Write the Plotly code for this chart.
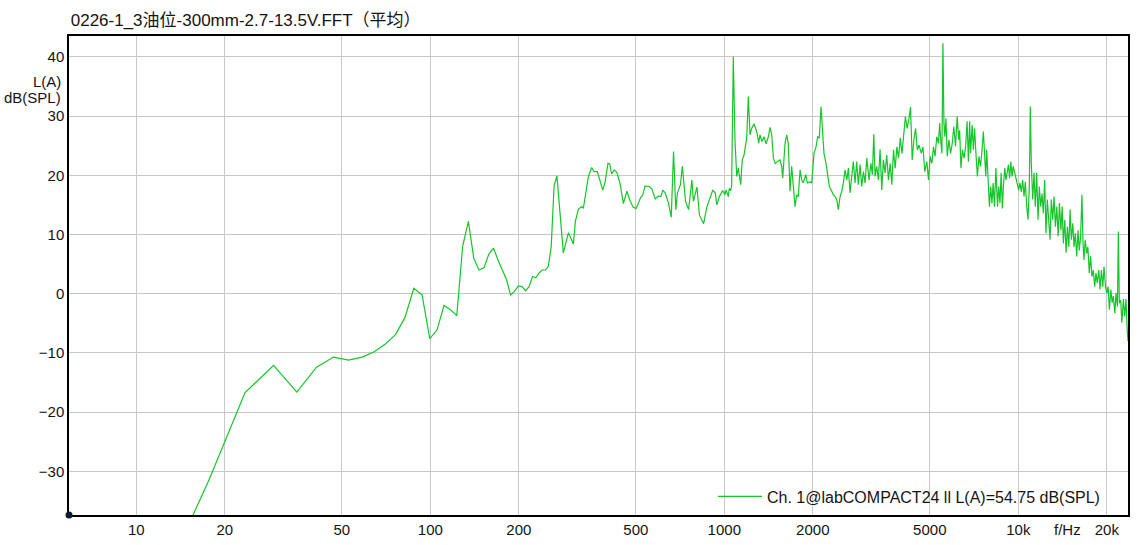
import plotly.graph_objects as go

# ---------------- data ----------------
freq_low = [5.86, 11.72, 17.58, 23.44, 29.30, 35.16, 41.02, 46.88, 52.73, 58.59,
            64.45, 70.31, 76.17, 82.03, 87.89, 93.75, 99.61, 105.47, 111.33, 117.19,
            123.05, 128.91, 134.77, 140.63, 146.48, 152.34, 158.20, 164.06, 169.92, 175.78,
            181.64, 187.50, 193.36, 199.22, 205.08, 210.94, 216.80, 222.66, 228.52, 234.38,
            240.23, 246.09, 251.95, 257.81, 263.67, 269.53]
level_low = [-58.0, -50.8, -31.7, -16.7, -12.1, -16.6, -12.4, -10.7, -11.2, -10.7,
             -9.8, -8.5, -6.9, -4.0, 0.9, -0.2, -7.6, -6.1, -2.0, -2.7,
             -3.7, 8.1, 12.2, 5.9, 4.0, 4.4, 6.7, 7.7, 5.7, 4.0,
             2.4, -0.2, 0.4, 1.3, 1.2, 0.5, 1.2, 2.9, 2.7, 3.5,
             4.0, 4.0, 4.6, 8.0, 18.2, 19.9]

freq_mid = [275, 283.5, 295, 306.6, 311.5, 319, 327.5, 331.6, 340.6, 345,
            354, 360.6, 370, 378, 386, 393, 402, 407.5, 414, 422,
            431, 442, 453.6, 466, 479, 490, 501.6, 518, 528, 538,
            556, 567, 582, 597, 608, 618, 630, 646, 660, 672,
            684, 693, 709, 720, 738, 756, 776, 785, 807, 823,
            850, 873, 897, 914, 932, 943, 962, 987, 1005, 1013,
            1032, 1040, 1051, 1059, 1073, 1087, 1102, 1116, 1137, 1151,
            1167, 1192, 1207, 1223, 1239, 1262, 1282, 1295, 1309, 1323,
            1343, 1365, 1387, 1412, 1431, 1450, 1469, 1490, 1515, 1547,
            1568, 1580, 1609, 1630, 1650, 1673, 1695, 1717, 1740, 1763,
            1785, 1810, 1834, 1857, 1892, 1916, 1957, 1983]
level_mid = [14.5, 6.9, 10.3, 8.4, 12.2, 14.3, 14.7, 14.4, 18.1, 19.8,
             21.3, 20.6, 20.6, 18.9, 17.5, 18.8, 22.0, 21.9, 20.2, 20.9,
             20.5, 18.6, 15.2, 17.3, 15.6, 14.6, 14.4, 16.1, 16.7, 18.2,
             18.1, 17.7, 16.0, 16.5, 16.4, 17.5, 17.0, 15.3, 12.9, 24.0,
             14.2, 17.0, 18.4, 21.5, 15.6, 14.2, 19.2, 15.6, 18.0, 13.3,
             11.8, 14.7, 16.4, 17.5, 17.0, 15.0, 16.4, 17.4, 16.7, 17.5,
             16.4, 17.8, 17.4, 18.1, 40.0, 26.0, 19.8, 21.2, 18.4, 22.6,
             23.4, 26.3, 33.3, 26.8, 27.9, 28.7, 27.7, 27.0, 25.4, 26.8,
             25.7, 26.5, 25.3, 26.5, 28.1, 26.8, 22.9, 22.0, 22.3, 22.6,
             21.5, 19.5, 25.4, 26.8, 25.4, 17.3, 21.5, 18.1, 14.7, 16.7,
             16.4, 20.9, 19.2, 18.7, 20.1, 18.7, 18.9, 18.7]

freq_upper = [2019, 2051, 2077, 2105, 2133, 2161, 2183, 2218, 2241, 2277,
              2320, 2349, 2381, 2412, 2443, 2476, 2509, 2541, 2575, 2610,
              2643, 2677, 2713, 2747, 2784, 2820, 2857, 2895, 2933, 2972,
              3012, 3053, 3108, 3150, 3189, 3224, 3257, 3300, 3343, 3387,
              3432, 3476, 3522, 3569, 3616, 3665, 3714, 3762, 3813, 3865,
              3915, 3967, 4021, 4075, 4130, 4186, 4241, 4298, 4356, 4414,
              4474, 4534, 4594, 4680, 4739, 4808, 4884, 4950, 5013, 5080,
              5147, 5211, 5280, 5350, 5403, 5444, 5498, 5541, 5585, 5628,
              5672, 5734, 5806, 5883, 5961, 6035, 6115, 6196, 6270, 6316,
              6381, 6456, 6537, 6619, 6697, 6766, 6831, 6881, 6967, 7034,
              7102, 7175, 7259, 7349, 7441, 7528, 7605, 7677, 7750, 7806,
              7903, 7977, 8059, 8135, 8211, 8294, 8392, 8495, 8575, 8661,
              8743, 8825, 8913, 8996, 9080, 9170, 9255, 9340, 9434, 9521, 9610]
level_upper = [23.7, 24.8, 26.5, 26.3, 31.6, 27.1, 23.7, 22.0, 20.4, 18.1,
               17.3, 16.7, 16.4, 15.9, 14.2, 16.4, 17.3, 18.7, 20.9, 19.2,
               21.2, 17.0, 19.8, 22.3, 18.7, 22.3, 18.4, 21.8, 18.1, 20.6,
               18.7, 22.9, 19.2, 22.0, 20.1, 26.9, 19.8, 21.5, 19.2, 24.4,
               17.5, 22.6, 20.4, 23.4, 19.2, 22.0, 18.4, 24.3, 21.2, 24.8,
               22.9, 26.3, 23.7, 27.1, 29.9, 27.9, 29.3, 31.5, 22.6, 26.0,
               27.9, 24.3, 25.1, 23.7, 24.8, 20.6, 22.3, 19.2, 23.2, 22.0,
               24.8, 23.2, 26.5, 25.4, 28.8, 26.0, 23.7, 42.3, 28.8, 26.5,
               29.6, 23.2, 26.0, 23.7, 25.4, 28.2, 24.9, 29.9, 26.0, 27.6,
               21.2, 24.3, 22.9, 24.8, 29.1, 22.3, 29.1, 23.7, 28.5, 24.3,
               27.9, 23.7, 19.8, 23.2, 21.5, 24.3, 27.4, 23.7, 19.8, 24.3,
               18.1, 14.7, 18.1, 15.3, 18.7, 14.7, 21.2, 14.7, 18.1, 15.3,
               20.4, 14.4, 18.7, 21.2, 19.2, 20.6, 21.8, 19.5, 22.3, 19.8, 21.5]

freq_high = [10031, 10134, 10238, 10350, 10456, 10564, 10680, 10788, 10900, 10985,
             11072, 11194, 11310, 11425, 11550, 11670, 11790, 11920, 12040, 12163,
             12295, 12420, 12550, 12690, 12820, 12950, 13095, 13230, 13370, 13520,
             13660, 13800, 13960, 14100, 14230, 14390, 14540, 14690, 14850, 15000,
             15150, 15320, 15470, 15630, 15800, 15960, 16120, 16290, 16460, 16590,
             16720, 16890, 17080, 17240, 17430, 17620, 17800, 17990, 18190, 18370,
             18560, 18780, 18960, 19170, 19380, 19570, 19790, 20000, 20200, 20410,
             20640, 20850, 21050, 21300, 21500, 21740, 21890, 22060, 22300, 22500,
             22770, 23010, 23240, 23430, 23610]
level_high = [17.5, 18.7, 17.2, 19.2, 16.4, 18.9, 14.7, 12.5, 18.1, 31.6,
              22.0, 15.9, 20.4, 14.7, 20.4, 12.5, 18.1, 14.7, 16.9, 13.6,
              19.2, 10.2, 15.9, 13.1, 9.1, 15.9, 12.5, 16.4, 11.3, 14.7,
              9.7, 15.3, 10.7, 14.7, 8.5, 12.5, 6.9, 11.3, 7.9, 14.2,
              9.1, 11.9, 7.9, 10.2, 6.3, 10.7, 7.3, 9.6, 16.7, 8.9,
              5.7, 9.1, 6.8, 7.9, 3.5, 6.3, 2.9, 4.0, 1.2, 3.5,
              1.8, 4.0, 0.7, 4.0, 1.2, 4.6, 1.2, 0.1, 1.2, -2.7,
              0.7, -1.5, -0.4, -3.3, 0.1, -2.2, 10.5, -1.6, -1.1, -4.9,
              -0.9, -3.8, -0.9, -5.5, -8.0]

x_tick_vals = [10, 20, 50, 100, 200, 500, 1000, 2000, 5000, 10000, 20000]
x_tick_text = ["10", "20", "50", "100", "200", "500", "1000", "2000", "5000", "10k", "20k"]
y_tick_vals = [-30, -20, -10, 0, 10, 20, 30, 40]

title_text = "0226-1_3油位-300mm-2.7-13.5V.FFT（平均）"
legend_text = "Ch. 1@labCOMPACT24 ll L(A)=54.75 dB(SPL)"

freqs = freq_low + freq_mid + freq_upper + freq_high
levels = level_low + level_mid + level_upper + level_high

FONT = "Liberation Sans, Arial, Noto Sans CJK SC, sans-serif"
TXT = "#141414"

fig = go.Figure()
fig.add_trace(go.Scatter(
    x=freqs, y=levels, mode="lines",
    line=dict(color="#16c52a", width=1.2),
    name=legend_text, showlegend=True,
))

fig.update_layout(
    width=1141, height=545,
    margin=dict(l=69, r=13, t=36, b=30, autoexpand=False),
    paper_bgcolor="white", plot_bgcolor="white",
    font=dict(family=FONT, size=15, color=TXT),
    showlegend=True,
    title=dict(text=title_text, x=0.062, xref="container", xanchor="left",
               y=0.963, yref="container", yanchor="middle",
               font=dict(family=FONT, size=17, color=TXT)),
    xaxis=dict(type="log", range=[0.7711, 4.3731], automargin=False,
               tickvals=x_tick_vals, ticktext=x_tick_text,
               showgrid=True, gridcolor="#c8c8c8", gridwidth=1,
               showline=True, linecolor="black", linewidth=1.5, mirror=True,
               ticks="", zeroline=False, ticklabelstandoff=0),
    yaxis=dict(range=[-37.36, 43.51], tickvals=y_tick_vals, automargin=False,
               showgrid=True, gridcolor="#c8c8c8", gridwidth=1,
               showline=True, linecolor="black", linewidth=1.5, mirror=True,
               ticks="", zeroline=False, ticklabelstandoff=0),
    legend=dict(x=0.6081, y=0.0386, xanchor="left", yanchor="middle",
                itemwidth=44,
                bgcolor="rgba(0,0,0,0)", borderwidth=0,
                font=dict(family=FONT, size=16, color=TXT)),
    annotations=[
        dict(text="L(A)", xref="paper", yref="paper", x=0, y=0.904,
             xanchor="right", yanchor="middle", xshift=-6, showarrow=False),
        dict(text="dB(SPL)", xref="paper", yref="paper", x=0, y=0.871,
             xanchor="right", yanchor="middle", xshift=-6, showarrow=False),
        dict(text="f/Hz", xref="paper", yref="paper", x=0.9424, y=0,
             xanchor="center", yanchor="middle", yshift=-14.5, showarrow=False),
    ],
    shapes=[
        dict(type="circle", xref="paper", yref="paper",
             xsizemode="pixel", ysizemode="pixel", xanchor=0, yanchor=0,
             x0=-3.5, x1=3.5, y0=-3.5, y1=3.5,
             fillcolor="#0b1a2e", line=dict(width=0), layer="above"),
    ],
)

post = (
    "document.documentElement.style.margin='0';"
    "document.body.style.margin='0';"
    "document.body.style.overflow='hidden';"
    "document.documentElement.style.overflow='hidden';"
)

fig.write_html("out.html", config={"displayModeBar": False}, post_script=post)
